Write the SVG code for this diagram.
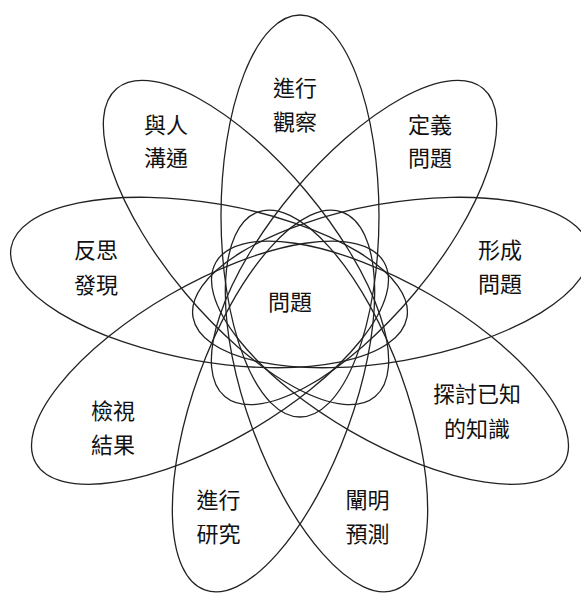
<svg xmlns="http://www.w3.org/2000/svg" width="581" height="595" viewBox="0 0 581 595">
<style>
.petal{fill:none;stroke:#222;stroke-width:1.3}
.lbl{font-family:"Noto Sans CJK TC","Noto Sans CJK SC",sans-serif;font-size:22px;fill:#111;text-anchor:middle;dominant-baseline:central}
</style>
<rect width="581" height="595" fill="#fff"/>
<g id="observe"><ellipse class="petal" cx="300" cy="216" rx="201" ry="79" transform="rotate(90 300 216)"/><text class="lbl" x="295" y="86">進行</text><text class="lbl" x="295" y="120">觀察</text></g>
<g id="define"><ellipse class="petal" cx="354" cy="242.5" rx="201" ry="79" transform="rotate(-50 354 242.5)"/><text class="lbl" x="430" y="123">定義</text><text class="lbl" x="430" y="156">問題</text></g>
<g id="formulate"><ellipse class="petal" cx="391" cy="282.5" rx="201" ry="79" transform="rotate(-10 391 282.5)"/><text class="lbl" x="500" y="248">形成</text><text class="lbl" x="500" y="282">問題</text></g>
<g id="explore"><ellipse class="petal" cx="390" cy="362.7" rx="201" ry="79" transform="rotate(30 390 362.7)"/><text class="lbl" x="477" y="392">探討已知</text><text class="lbl" x="477" y="427">的知識</text></g>
<g id="predict"><ellipse class="petal" cx="326.5" cy="401" rx="201" ry="79" transform="rotate(70 326.5 401)"/><text class="lbl" x="367.5" y="497.5">闡明</text><text class="lbl" x="367.5" y="531.5">預測</text></g>
<g id="research"><ellipse class="petal" cx="273.5" cy="401" rx="201" ry="79" transform="rotate(-70 273.5 401)"/><text class="lbl" x="218.5" y="497.5">進行</text><text class="lbl" x="218.5" y="531.5">研究</text></g>
<g id="review"><ellipse class="petal" cx="210" cy="362.7" rx="201" ry="79" transform="rotate(-30 210 362.7)"/><text class="lbl" x="113" y="409">檢視</text><text class="lbl" x="113" y="443">結果</text></g>
<g id="reflect"><ellipse class="petal" cx="209" cy="282.5" rx="201" ry="79" transform="rotate(10 209 282.5)"/><text class="lbl" x="96" y="248">反思</text><text class="lbl" x="96" y="282.5">發現</text></g>
<g id="communicate"><ellipse class="petal" cx="246" cy="242.5" rx="201" ry="79" transform="rotate(50 246 242.5)"/><text class="lbl" x="166" y="122.5">與人</text><text class="lbl" x="166" y="156">溝通</text></g>
<g id="question"><text class="lbl" x="290" y="300">問題</text></g>
<g id="connectors"/>
</svg>
